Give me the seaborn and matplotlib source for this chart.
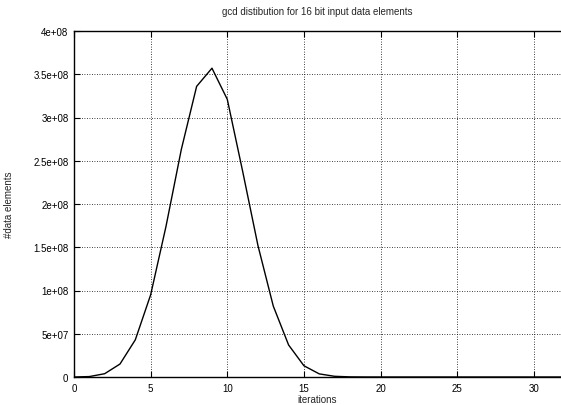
import numpy as np
import pandas as pd
import matplotlib
matplotlib.use("Agg")
import matplotlib.pyplot as plt
import seaborn as sns

iterations = list(range(0, 33))
counts = [0, 5e5, 3.8e6, 1.5e7, 4.3e7, 9.5e7, 1.74e8, 2.63e8, 3.36e8, 3.57e8,
          3.21e8, 2.38e8, 1.52e8, 8.2e7, 3.7e7, 1.3e7, 3.6e6, 8e5, 1.5e5, 3e4,
          5e3, 1e3, 0, 0, 0, 0, 0, 0, 0, 0, 0, 0, 0]
x_ticks = [0, 5, 10, 15, 20, 25, 30]
y_ticks = [0, 5e7, 1e8, 1.5e8, 2e8, 2.5e8, 3e8, 3.5e8, 4e8]
y_labels = ["0", "5e+07", "1e+08", "1.5e+08", "2e+08", "2.5e+08", "3e+08", "3.5e+08", "4e+08"]

sns.set_theme(style="white")
plt.rcParams['font.family'] = ['Liberation Sans', 'DejaVu Sans']

df = pd.DataFrame({"iterations": iterations, "count": counts})

fig = plt.figure(figsize=(5.61, 4.06), dpi=100)
ax = fig.add_axes([74/561, (406-378)/406, (561-74)/561, (378-32)/406])
sns.lineplot(data=df, x="iterations", y="count", ax=ax, color="black", linewidth=1.0)

ax.set_xlim(0, 31.77)
ax.set_ylim(0, 4e8)
ax.set_xticks(x_ticks)
ax.set_yticks(y_ticks)
ax.set_yticklabels(y_labels)
ax.grid(True, color="black", linestyle=(0, (1, 2)), linewidth=0.6)
ax.tick_params(direction="in", length=4, width=0.8, colors="black", labelsize=7,
               top=True, right=False, bottom=True, left=True, pad=4)
for s in ax.spines.values():
    s.set_color("black")
    s.set_linewidth(1.0)
ax.spines["right"].set_visible(False)
ax.set_xlabel("iterations", fontsize=7, labelpad=1)
ax.set_ylabel("#data elements", fontsize=7, labelpad=14)
ax.set_title("gcd distibution for 16 bit input data elements", fontsize=7, pad=12)

fig.savefig("out.png", dpi=100)
